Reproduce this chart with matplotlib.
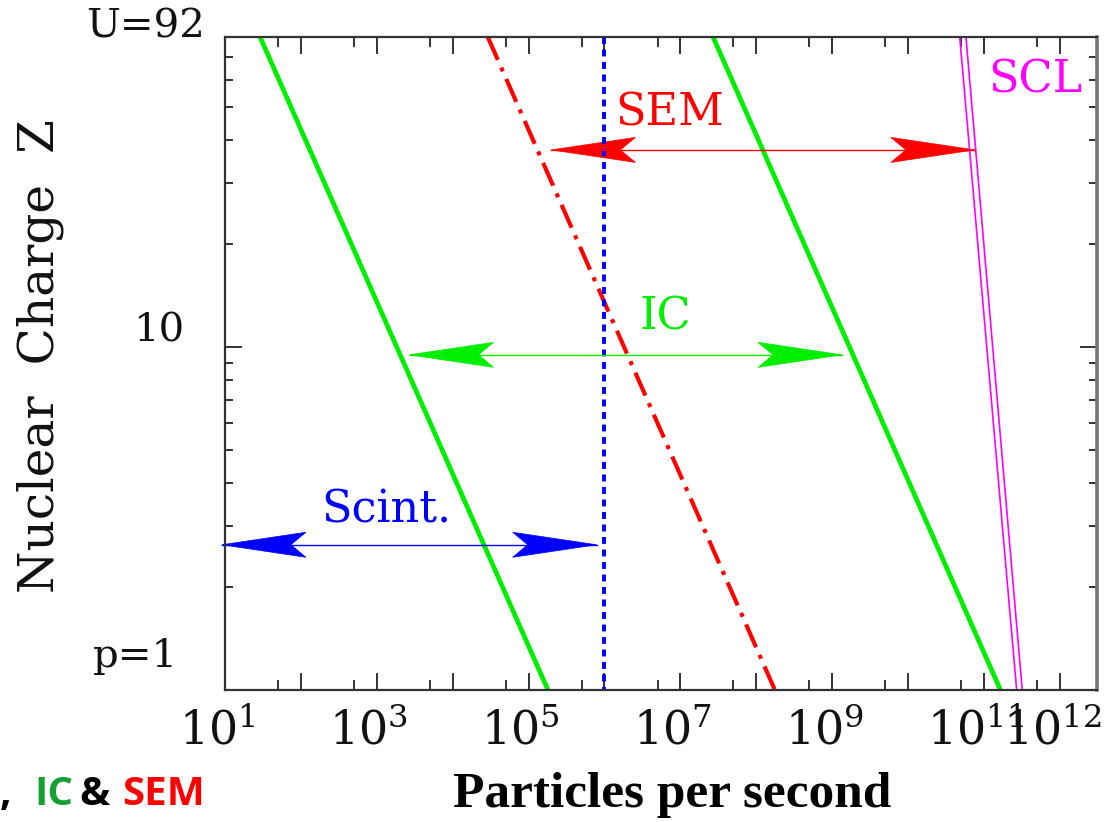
import numpy as np
import matplotlib
matplotlib.use("Agg")
import matplotlib.pyplot as plt
from matplotlib.patches import Polygon
from matplotlib.transforms import ScaledTranslation, blended_transform_factory
from matplotlib.ticker import LogLocator, NullFormatter

plt.rcParams['mathtext.fontset'] = 'dejavuserif'
plt.rcParams['lines.scale_dashes'] = False

# ---- data ----
z_span = [80, 1]                       # lines run top -> bottom of the axes
ic_low_x = [29, 1.8e5]                 # IC lower limit
ic_high_x = [2.7e7, 1.65e11]           # IC upper limit
sem_low_x = [2.9e4, 1.76e8]            # SEM lower limit (dash-dot)
scint_high = 1e6                       # scintillator limit (dotted)
scl_a_x = [4.8e10, 2.7e11]             # space charge limit, double line
scl_b_x = [5.8e10, 3.2e11]

arrow_names = ['Scint.', 'IC', 'SEM']
arrow_x0 = [9.1, 2.7e3, 2.0e5]
arrow_x1 = [7.9e5, 1.35e9, 7.6e10]
arrow_z = [2.65, 9.48, 37.5]
arrow_colors = ['#0000ff', '#00ee00', '#ff0000']
label_x = [1.35e3, 6.3e6, 7.2e6]
label_z = [3.35, 12.2, 48]

xtick_exp = [1, 3, 5, 7, 9, 11, 12]
xlim = (10, 10 ** 12.49)
ylim = (1, 80)

fig = plt.figure(figsize=(11.11, 8.22), dpi=100)
ax = fig.add_axes([225 / 1111, 1 - 690 / 822, 872 / 1111, 653 / 822])
ax.set_xscale('log')
ax.set_yscale('log')
ax.set_xlim(*xlim)
ax.set_ylim(*ylim)

green = '#00ee00'
ax.plot(ic_low_x, z_span, color=green, lw=3.4, solid_capstyle='butt')
ax.plot(ic_high_x, z_span, color=green, lw=3.4, solid_capstyle='butt')
ax.plot(sem_low_x, z_span, color='#ff0000', lw=3.0, dashes=(18, 6, 3, 6))
ax.plot([scint_high, scint_high], z_span, color='#0000ff', lw=2.8, dashes=(5, 4))
ax.plot(scl_a_x, z_span, color='#ff00ff', lw=1.2)
ax.plot(scl_b_x, z_span, color='#ff00ff', lw=1.2)


def head(x, y, d, color):
    # arrow head in inches, tip at the data point, d = +1 right, -1 left
    L, W, N = 0.84, 0.25, 0.15
    verts = [(0, 0), (-L * d, W / 2), (-(L - N) * d, 0), (-L * d, -W / 2)]
    trans = fig.dpi_scale_trans + ScaledTranslation(x, y, ax.transData)
    ax.add_patch(Polygon(verts, closed=True, fc=color, ec=color, lw=0.5,
                         transform=trans, clip_on=False))


for name, x0, x1, z, c, lx, lz in zip(arrow_names, arrow_x0, arrow_x1, arrow_z,
                                      arrow_colors, label_x, label_z):
    ax.plot([x0, x1], [z, z], color=c, lw=1.0, clip_on=False)
    head(x0, z, -1, c)
    head(x1, z, 1, c)
    ax.text(lx, lz, name, color=c, fontsize=32, family='DejaVu Serif',
            ha='center', va='center')

ax.text(4.7e11, 60, 'SCL', color='#ff00ff', fontsize=32, family='DejaVu Serif',
        ha='center', va='center')

# axes frame and ticks
for s in ax.spines.values():
    s.set_color('#333333')
    s.set_linewidth(1.6)
ax.spines['right'].set_color('#777777')
ax.spines['right'].set_linewidth(2.6)

ax.xaxis.set_major_locator(LogLocator(base=10, numticks=30))
ax.xaxis.set_minor_locator(LogLocator(base=10, subs=(5,), numticks=30))
ax.yaxis.set_major_locator(LogLocator(base=10, numticks=10))
ax.yaxis.set_minor_locator(LogLocator(base=10, subs=np.arange(2, 10), numticks=10))
for axis in (ax.xaxis, ax.yaxis):
    axis.set_major_formatter(NullFormatter())
    axis.set_minor_formatter(NullFormatter())
ax.tick_params(which='both', direction='in', top=True, right=True,
               color='#333333', width=1.4)
ax.tick_params(axis='x', which='major', length=12)
ax.tick_params(axis='x', which='minor', length=7)
ax.tick_params(axis='y', which='major', length=12)
ax.tick_params(axis='y', which='minor', length=6)

# x tick labels
xt = blended_transform_factory(ax.transData, fig.transFigure)
xt = xt + ScaledTranslation(-8 / 100, 0, fig.dpi_scale_trans)
for e in xtick_exp:
    fig.text(10.0 ** e, 1 - 732 / 822, r'$10^{%d}$' % e, transform=xt,
             ha='center', va='center', fontsize=33, color='#111111')

# y labels
ylab_kw = dict(family='DejaVu Serif', fontsize=29, ha='right', va='center', color='#111111')
fig.text(205 / 1111, 1 - 27 / 822, 'U=92', **ylab_kw)
fig.text(184 / 1111, 1 - 331 / 822, '10', **ylab_kw)
fig.text(178 / 1111, 1 - 656 / 822, 'p=1', **ylab_kw)
fig.text(40 / 1111, 1 - 356 / 822, 'Nuclear  Charge  Z', rotation=90,
         family='DejaVu Serif', fontsize=35, ha='center', va='center', color='#111111')

# bottom captions
fig.text(672 / 1111, 1 - 795 / 822, 'Particles per second', family='Liberation Serif',
         fontweight='bold', fontsize=37, ha='center', va='center')
cap_kw = dict(family='Open Sans', fontweight='bold', fontsize=29, va='center')
fig.text(0 / 1111, 1 - 794 / 822, ',', color='black', **cap_kw)
fig.text(34 / 1111, 1 - 794 / 822, 'IC', color='#14a032', **cap_kw)
fig.text(79 / 1111, 1 - 794 / 822, '&', color='black', **cap_kw)
fig.text(122 / 1111, 1 - 794 / 822, 'SEM', color='#ff0000', **cap_kw)

fig.savefig('out.png', dpi=100)
